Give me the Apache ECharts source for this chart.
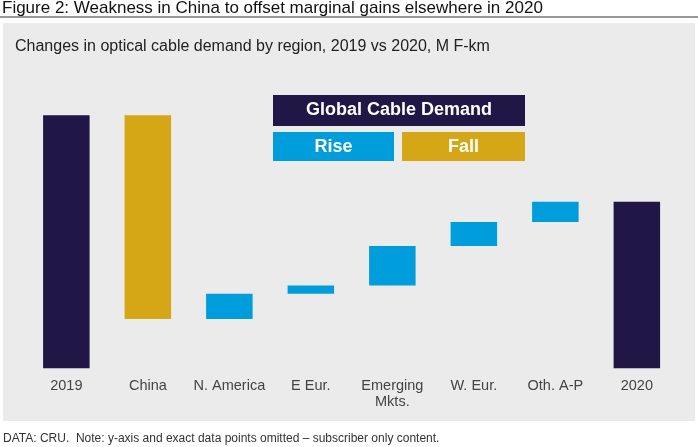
<!DOCTYPE html>
<html>
<head>
<meta charset="utf-8">
<title>Figure 2</title>
<script src="https://cdn.jsdelivr.net/npm/echarts@6/dist/echarts.min.js"></script>
<style>
    html, body { margin: 0; padding: 0; background: #fff; }
    #main { width: 698px; height: 447px; }
</style>
</head>
<body>
<div id="main"></div>
<script>
// categories and changes (M F-km, estimated - y-axis omitted in source)
var categories = ['2019', 'China', 'N. America', 'E Eur.', 'Emerging\nMkts.', 'W. Eur.', 'Oth. A-P', '2020'];
var start2019 = 500;
var changes = [null, -80.5, 10, 3.2, 15.6, 9.5, 8.0, null];
var end2020 = 465.8;

window.onload = () => {
    var chartDom = document.getElementById('main');
    var myChart = echarts.init(chartDom);
    var option;

    // build the waterfall: invisible base + total / rise / fall pieces
    var base = [], total = [], rise = [], fall = [];
    var running = start2019;
    for (var i = 0; i < categories.length; i++) {
        if (i == 0 || i == categories.length - 1) {
            var v = i == 0 ? start2019 : end2020;
            base.push(0);
            total.push(v);
            rise.push('-');
            fall.push('-');
        } else {
            var d = changes[i];
            total.push('-');
            if (d >= 0) {
                base.push(running);
                rise.push(d);
                fall.push('-');
            } else {
                base.push(running + d);
                fall.push(-d);
                rise.push('-');
            }
            running += d;
        }
    }

    var font = '"Liberation Sans", Arial, sans-serif';
    var navy = '#201747';
    var blue = '#009ddc';
    var gold = '#d5a616';

    option = {
        animation: false,
        textStyle: { fontFamily: font },
        title: [{
            text: 'Figure 2: Weakness in China to offset marginal gains elsewhere in 2020',
            left: 2,
            top: 0,
            padding: 0,
            textStyle: { fontSize: 17, fontWeight: 'normal', color: '#111', fontFamily: font }
        }, {
            text: 'Changes in optical cable demand by region, 2019 vs 2020, M F-km',
            left: 15,
            top: 38.5,
            padding: 0,
            textStyle: { fontSize: 16, fontWeight: 'normal', color: '#222', fontFamily: font }
        }, {
            text: 'DATA: CRU.  Note: y-axis and exact data points omitted \u2013 subscriber only content.',
            left: 3,
            top: 433,
            padding: 0,
            textStyle: { fontSize: 12, fontWeight: 'normal', color: '#333', fontFamily: font }
        }],
        graphic: [{
            type: 'rect',
            z: -10,
            shape: { x: 3, y: 23, width: 692, height: 398 },
            style: { fill: '#ebebeb' }
        }, {
            type: 'line',
            shape: { x1: 0, y1: 17, x2: 698, y2: 17 },
            style: { stroke: '#333', lineWidth: 1 }
        }, {
            type: 'group',
            z: 100,
            children: [{
                type: 'rect',
                shape: { x: 273, y: 95, width: 252, height: 31 },
                style: { fill: navy }
            }, {
                type: 'text',
                x: 399, y: 110.5,
                style: { text: 'Global Cable Demand', fill: '#fff', font: 'bold 18px ' + font, align: 'center', verticalAlign: 'middle' }
            }, {
                type: 'rect',
                shape: { x: 273, y: 132, width: 121, height: 29 },
                style: { fill: blue }
            }, {
                type: 'text',
                x: 333.5, y: 147,
                style: { text: 'Rise', fill: '#fff', font: 'bold 18px ' + font, align: 'center', verticalAlign: 'middle' }
            }, {
                type: 'rect',
                shape: { x: 402, y: 132, width: 123, height: 29 },
                style: { fill: gold }
            }, {
                type: 'text',
                x: 463.5, y: 147,
                style: { text: 'Fall', fill: '#fff', font: 'bold 18px ' + font, align: 'center', verticalAlign: 'middle' }
            }]
        }],
        grid: {
            left: 25.6,
            right: 20.4,
            top: 115.3,
            bottom: 78.7
        },
        xAxis: {
            type: 'category',
            data: categories,
            axisLine: { show: false },
            axisTick: { show: false },
            axisLabel: {
                margin: 9,
                fontSize: 14.5,
                color: '#444',
                lineHeight: 16.5,
                interval: 0,
                fontFamily: font
            }
        },
        yAxis: {
            type: 'value',
            min: 400,
            max: 500,
            show: false
        },
        series: [{
            name: 'base',
            type: 'bar',
            stack: 'w',
            barWidth: 46.5,
            itemStyle: { color: 'transparent' },
            silent: true,
            data: base
        }, {
            name: 'Global Cable Demand',
            type: 'bar',
            stack: 'w',
            itemStyle: { color: navy },
            data: total
        }, {
            name: 'Rise',
            type: 'bar',
            stack: 'w',
            itemStyle: { color: blue },
            data: rise
        }, {
            name: 'Fall',
            type: 'bar',
            stack: 'w',
            itemStyle: { color: gold },
            data: fall
        }]
    };
    option && myChart.setOption(option);
}
</script>
</body>
</html>
